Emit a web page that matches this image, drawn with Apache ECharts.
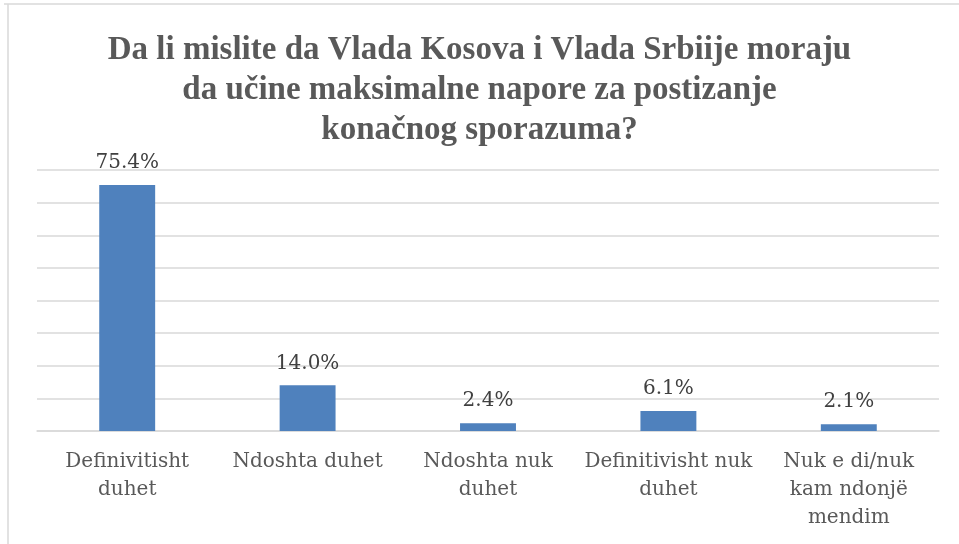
<!DOCTYPE html>
<html>
<head>
<meta charset="utf-8">
<script src="https://cdn.jsdelivr.net/npm/echarts@6/dist/echarts.min.js"></script>
</head>
<body style="margin:0;background:#fff;">
<div id="chart" style="width:959px;height:544px;"></div>
<script type="text/javascript">
var categories = ['Definivitisht\nduhet', 'Ndoshta duhet', 'Ndoshta nuk\nduhet', 'Definitivisht nuk\nduhet', 'Nuk e di/nuk\nkam ndonjë\nmendim'];
var values = [75.4, 14.0, 2.4, 6.1, 2.1];
var titleText = 'Da li mislite da Vlada Kosova i Vlada Srbiije moraju\nda učine maksimalne napore za postizanje\nkonačnog sporazuma?';

var chart = echarts.init(document.getElementById('chart'));
var option = {
    title: {
        text: titleText,
        left: 'center',
        top: 25,
        textStyle: {
            fontFamily: 'Liberation Serif',
            fontWeight: 'bold',
            fontSize: 33,
            lineHeight: 40,
            color: '#595959',
            align: 'center'
        }
    },
    graphic: [
        { type: 'line', shape: { x1: 4, y1: 4, x2: 959, y2: 4 }, style: { stroke: '#d9d9d9', lineWidth: 1.5 } },
        { type: 'line', shape: { x1: 8, y1: 4, x2: 8, y2: 544 }, style: { stroke: '#d9d9d9', lineWidth: 1.5 } }
    ],
    grid: {
        left: 37,
        right: 20,
        top: 170,
        bottom: 113
    },
    xAxis: {
        type: 'category',
        data: categories,
        axisLine: { lineStyle: { color: '#d9d9d9', width: 1.5 } },
        axisTick: { show: false },
        axisLabel: {
            interval: 0,
            margin: 17,
            fontFamily: 'DejaVu Serif',
            fontSize: 20,
            lineHeight: 28,
            color: '#595959'
        }
    },
    yAxis: {
        type: 'value',
        min: 0,
        max: 80,
        interval: 10,
        axisLabel: { show: false },
        axisLine: { show: false },
        axisTick: { show: false },
        splitLine: { lineStyle: { color: '#d9d9d9', width: 1.5 } }
    },
    series: [
        {
            type: 'bar',
            data: values,
            barWidth: '31%',
            itemStyle: { color: '#4f81bd' },
            label: {
                show: true,
                position: 'top',
                distance: 12,
                fontFamily: 'DejaVu Serif',
                fontSize: 20,
                color: '#404040',
                formatter: function (p) { return p.value.toFixed(1) + '%'; }
            }
        }
    ]
};
chart.setOption(option);
</script>
</body>
</html>
